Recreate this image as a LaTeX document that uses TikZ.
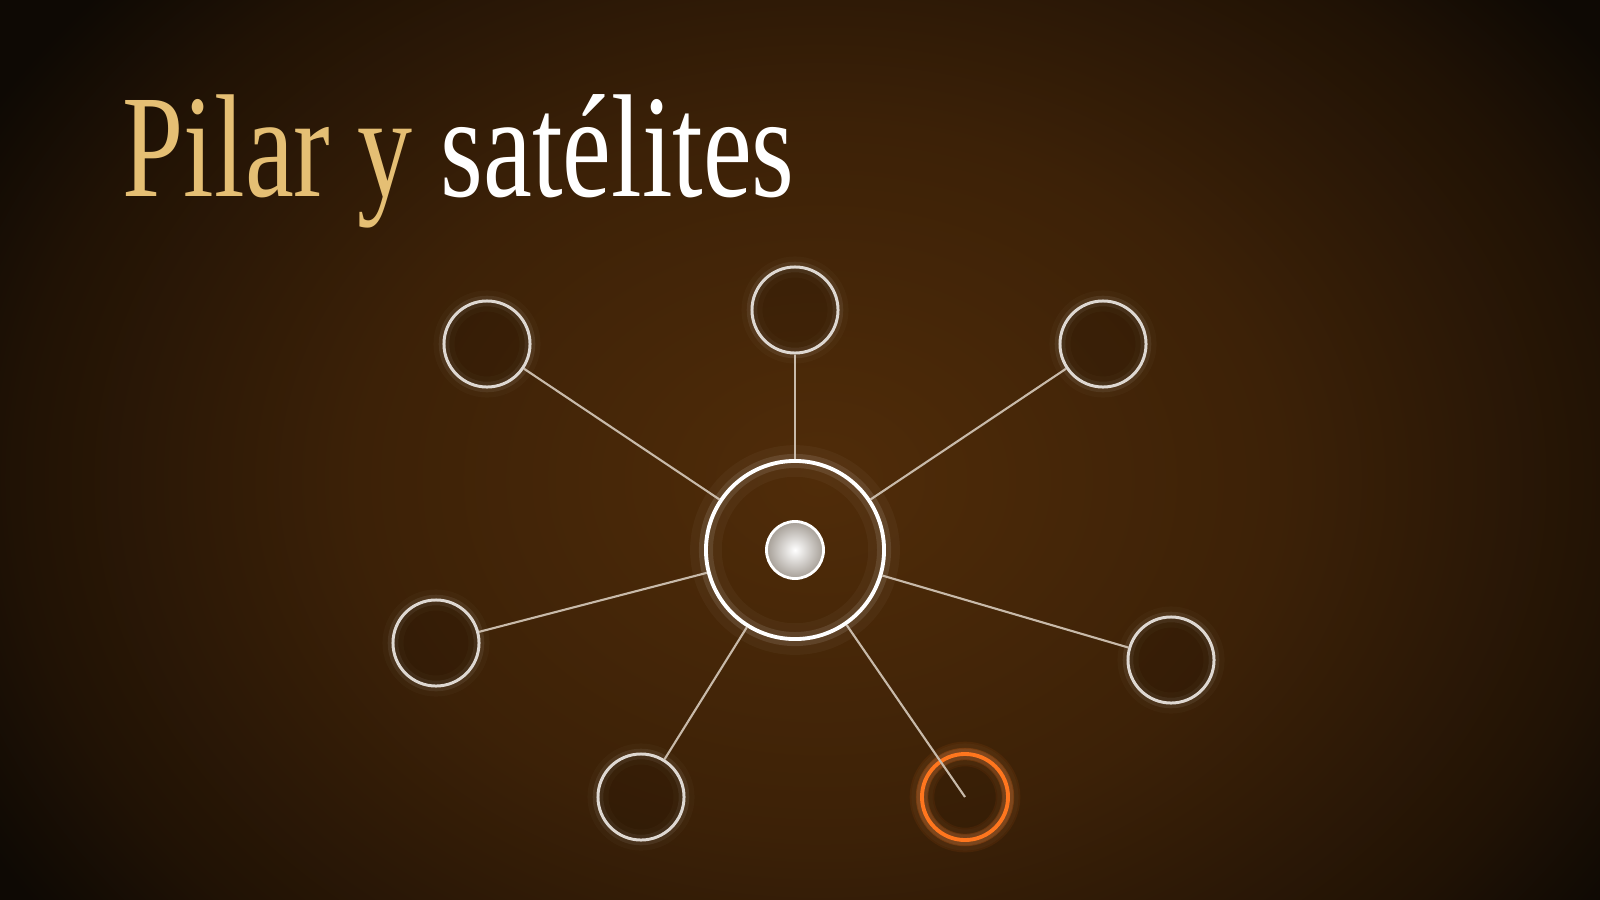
\documentclass[tikz,border=0pt]{standalone}
\usepackage{fontspec}
\newfontfamily\titlefont[FakeStretch=0.75]{Liberation Serif}
\definecolor{bgcore}{RGB}{80,44,9}
\definecolor{bgmid}{RGB}{60,33,7}
\definecolor{bgdark}{RGB}{32,18,5}
\definecolor{bgedge}{RGB}{14,9,4}
\definecolor{titlegold}{RGB}{229,191,116}
\definecolor{ringwhite}{RGB}{222,216,210}
\definecolor{spokecol}{RGB}{200,186,170}
\definecolor{glowred}{RGB}{255,118,30}
\definecolor{coregray}{RGB}{165,158,150}
\pgfdeclareradialshading{bgglow}{\pgfpoint{0bp}{0bp}}{color(0bp)=(bgcore); color(12bp)=(bgmid); color(21bp)=(bgdark); color(25bp)=(bgedge); color(50bp)=(bgedge)}
\tikzset{
  satellite/.style={circle, minimum size=0.86cm, inner sep=0pt,
    draw=ringwhite, line width=0.85pt, fill=black, fill opacity=0.12,
    preaction={draw=white, line width=6pt, draw opacity=0.025},
    preaction={draw=white, line width=3pt, draw opacity=0.07}},
  active/.style={satellite, draw=glowred, line width=1.1pt, fill opacity=0.08,
    preaction={draw=glowred, line width=7pt, draw opacity=0.08},
    preaction={draw=glowred, line width=3.5pt, draw opacity=0.22}},
  spoke/.style={draw=spokecol, line width=0.6pt}
}
\begin{document}
\begin{tikzpicture}[x=0.01cm, y=-0.01cm]
    \useasboundingbox (0,0) rectangle (1600,900);

    % Background glow
    \begin{scope}
      \clip (0,0) rectangle (1600,900);
      \fill[bgedge] (0,0) rectangle (1600,900);
      \shade[shading=bgglow] (820,480) ellipse (960 and 740);
    \end{scope}

    % Title
    \node[anchor=base west, inner sep=0pt, text=white] (title) at (122,196)
      {\titlefont\fontsize{41.7}{50}\selectfont\textcolor{titlegold}{Pilar y} satélites};

    % Hub
    \node[circle, minimum size=1.78cm, inner sep=0pt, draw=white, line width=1.1pt,
      preaction={draw=white, line width=9pt, draw opacity=0.035},
      preaction={draw=white, line width=4pt, draw opacity=0.10}] (hub) at (795,550) {};
    \node[circle, minimum size=0.57cm, inner sep=0pt, draw=white, line width=0.8pt,
      inner color=white, outer color=coregray] (core) at (hub.center) {};

    % Satellites
    \node[satellite] (sa) at (487,344) {};
    \node[satellite] (sb) at (795,310) {};
    \node[satellite] (sc) at (1103,344) {};
    \node[satellite] (sd) at (436,643) {};
    \node[satellite] (se) at (1171,660) {};
    \node[satellite] (sf) at (641,797) {};
    \node[active] (sg) at (965,797) {};

    % Spokes
    \foreach \s in {sa,sb,sc,sd,se,sf}
      \draw[spoke] (hub) -- (\s);
    \draw[spoke] (hub) -- (sg.center);
\end{tikzpicture}
\end{document}
